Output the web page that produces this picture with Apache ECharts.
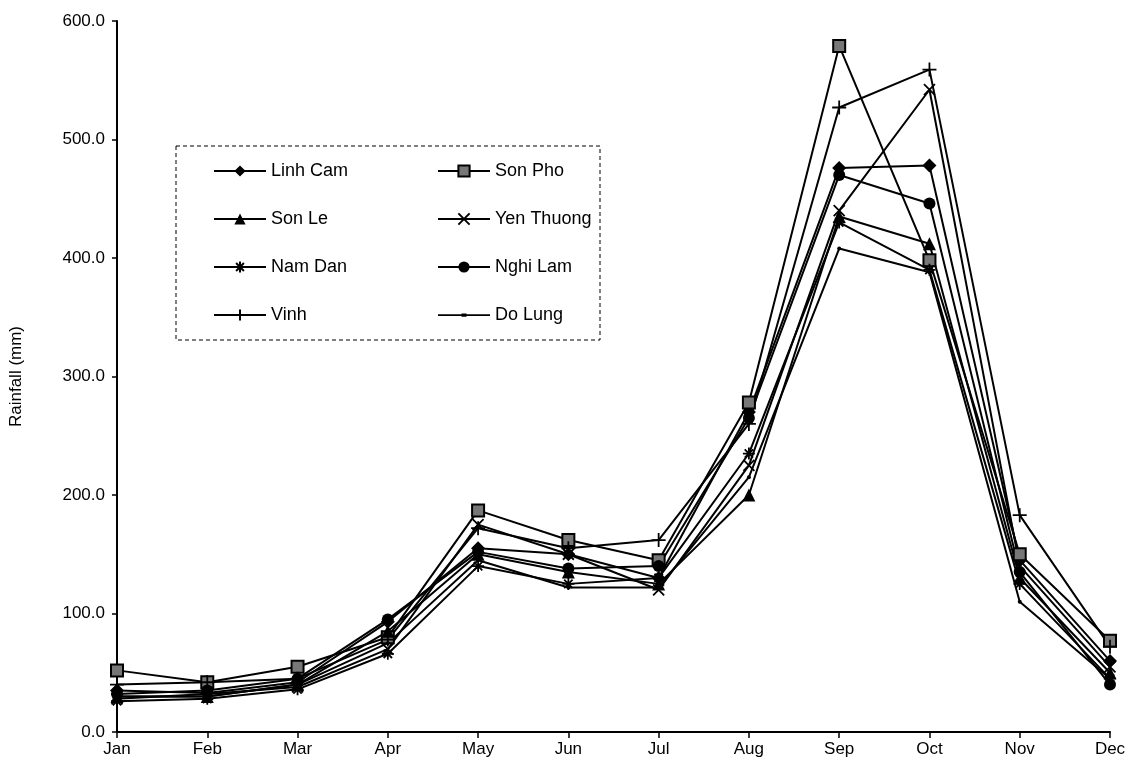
<!DOCTYPE html>
<html>
<head>
<meta charset="utf-8">
<script src="https://cdn.jsdelivr.net/npm/echarts@6/dist/echarts.min.js"></script>
<style>html,body{margin:0;padding:0;background:#fff}#c{width:1132px;height:773px}</style>
</head>
<body>
<div id="c"></div>
<script>
var months = ['Jan','Feb','Mar','Apr','May','Jun','Jul','Aug','Sep','Oct','Nov','Dec'];
var linhCam   = [35, 33, 42, 93, 155, 150, 130, 270, 476, 478, 145, 60];
var sonPho    = [52, 42, 55, 80, 187, 162, 145, 278, 579, 398, 150, 77];
var sonLe     = [30, 30, 40, 85, 150, 135, 125, 200, 435, 412, 130, 50];
var yenThuong = [28, 32, 38, 70, 175, 150, 120, 225, 440, 542, 140, 55];
var namDan    = [26, 28, 36, 66, 140, 125, 130, 235, 430, 390, 125, 45];
var nghiLam   = [32, 35, 45, 95, 152, 138, 140, 265, 470, 446, 135, 40];
var vinh      = [40, 42, 45, 78, 172, 155, 162, 260, 527, 559, 183, 72];
var doLung    = [30, 30, 40, 75, 145, 122, 122, 215, 408, 388, 110, 45];
var yTicks = [0, 100, 200, 300, 400, 500, 600];

var FONT = '"Liberation Sans", Arial, sans-serif';
var stroke = {color:'#000', borderColor:'#000', borderWidth:1.8};
function mk(name, data, symbol, size, itemStyle){
  return {
    name: name, type: 'line', data: data, symbol: symbol, symbolSize: size,
    showAllSymbol: true,
    lineStyle: {color:'#000', width: 2},
    itemStyle: itemStyle || {color:'#000', borderColor:'#000', borderWidth:0},
    emphasis: {disabled: true}, animation: false
  };
}
var series = [
  mk('Linh Cam', linhCam, 'diamond', 14),
  mk('Son Pho', sonPho, 'rect', 12, {color:'#777', borderColor:'#000', borderWidth:2}),
  mk('Son Le', sonLe, 'triangle', 13),
  mk('Yen Thuong', yenThuong, 'path://M0,0L10,10M10,0L0,10', 11, stroke),
  mk('Nam Dan', namDan, 'path://M5,0L5,10M0,5L10,5M1.5,1.5L8.5,8.5M8.5,1.5L1.5,8.5', 12, stroke),
  mk('Nghi Lam', nghiLam, 'circle', 12),
  mk('Vinh', vinh, 'path://M5,0L5,10M0,5L10,5', 14, stroke),
  mk('Do Lung', doLung, 'circle', 4)
];

var chart = echarts.init(document.getElementById('c'));
var legendCommon = {
  orient: 'vertical', top: 157, itemWidth: 52, itemHeight: 14, itemGap: 30,
  textStyle: {fontFamily: FONT, fontSize: 18, color: '#000'},
  selectedMode: false
};
var doLungIcon = 'path://M0,0L0.05,0L0.05,0.05Z M0,6.2L52,6.2L52,8L0,8Z M23.5,5.4L28.5,5.4L28.5,8.8L23.5,8.8Z M51.95,14L52,14L52,13.95Z';
chart.setOption({
  animation: false,
  grid: {left: 117, right: 22, top: 21, bottom: 41},
  legend: [
    Object.assign({}, legendCommon, {left: 208, data: ['Linh Cam','Son Le','Nam Dan','Vinh']}),
    Object.assign({}, legendCommon, {left: 432, data: ['Son Pho','Yen Thuong','Nghi Lam',
      {name: 'Do Lung', icon: doLungIcon, itemStyle: {color: '#000', borderWidth: 0}}]})
  ],
  graphic: [{
    type: 'rect', shape: {x: 176, y: 146, width: 424, height: 194},
    style: {fill: 'none', stroke: '#000', lineWidth: 1, lineDash: [4, 3]}, z: 10, silent: true
  }],
  xAxis: {
    type: 'category', data: months, boundaryGap: false,
    axisLine: {lineStyle: {color: '#000', width: 2}},
    axisTick: {show: true, alignWithLabel: true, length: 6, lineStyle: {color:'#000', width: 1.5}},
    axisLabel: {fontFamily: FONT, fontSize: 17, color: '#000', margin: 9},
    splitLine: {show: false}
  },
  yAxis: {
    type: 'value', min: 0, max: 600, interval: 100,
    name: 'Rainfall (mm)', nameLocation: 'middle', nameGap: 92, nameRotate: 90,
    nameTextStyle: {fontFamily: FONT, fontSize: 17, color: '#000'},
    axisLine: {show: true, lineStyle: {color: '#000', width: 2}},
    axisTick: {show: true, length: 5, lineStyle: {color:'#000', width: 1.5}},
    axisLabel: {fontFamily: FONT, fontSize: 17, color: '#000', margin: 12,
      formatter: function(v){ return yTicks.indexOf(v) >= 0 ? v.toFixed(1) : ''; }},
    splitLine: {show: false}
  },
  series: series
});
</script>
</body>
</html>
